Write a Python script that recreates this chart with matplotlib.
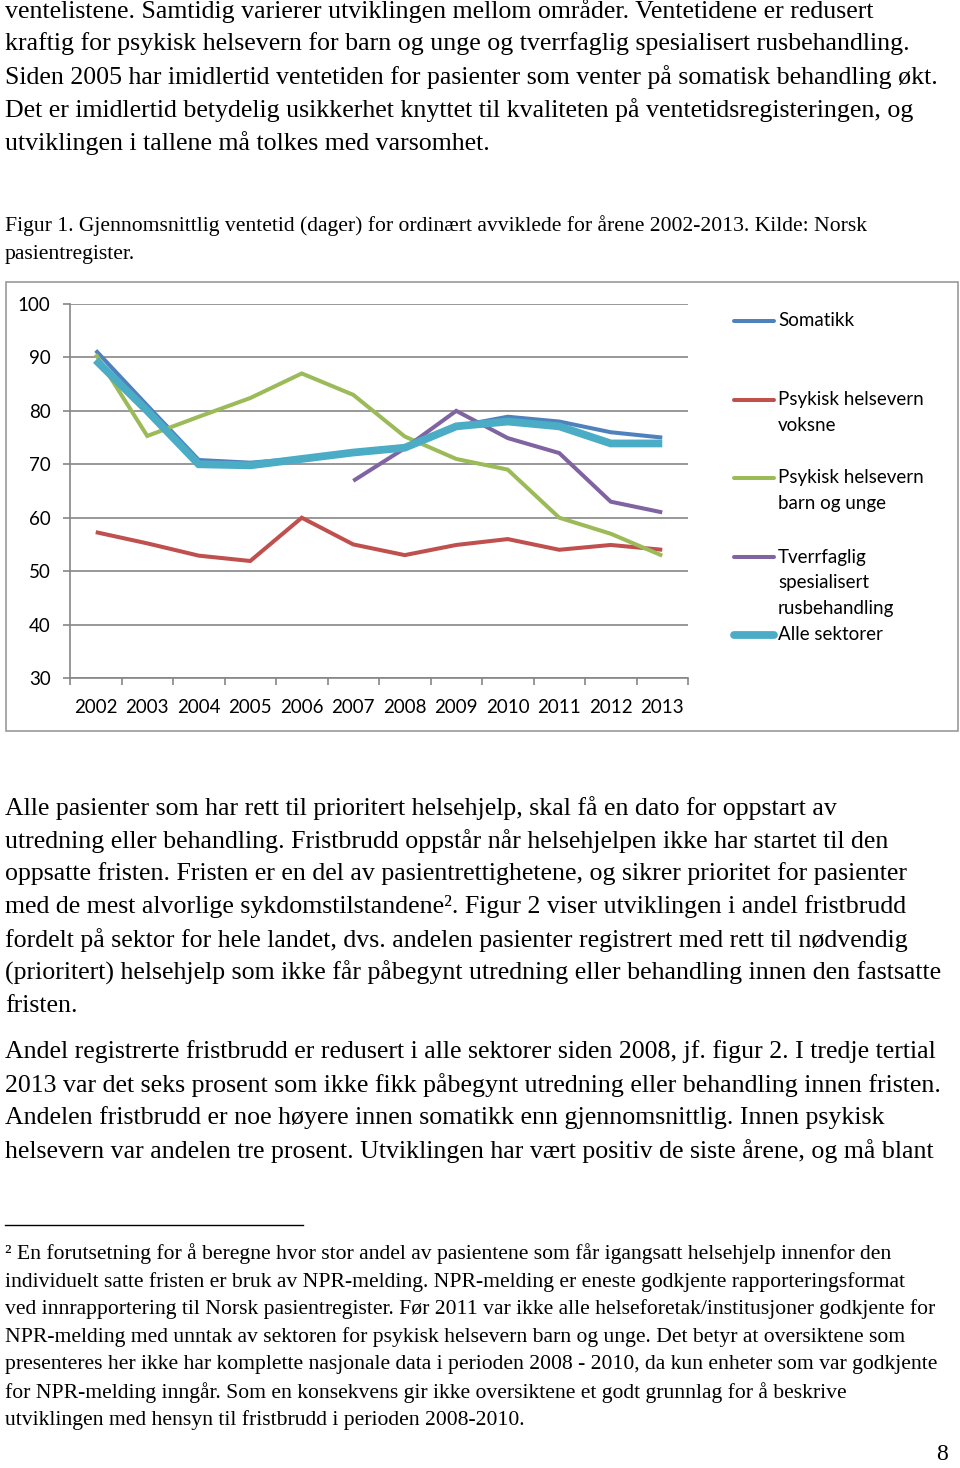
import matplotlib
matplotlib.use("Agg")
import matplotlib.pyplot as plt
from matplotlib.lines import Line2D
from matplotlib.patches import Rectangle
import numpy as np

W, H = 960, 1468

years = ["2002", "2003", "2004", "2005", "2006", "2007",
         "2008", "2009", "2010", "2011", "2012", "2013"]
somatikk = [91.3, 81.0, 70.8, 70.3, 71.1, 72.4, 73.3, 77.1, 78.9, 78.0, 76.0, 75.0]
voksne = [57.3, 55.2, 52.9, 51.9, 60.0, 55.0, 53.0, 54.9, 56.0, 54.0, 54.9, 54.0]
barn = [90.6, 75.3, 78.9, 82.4, 87.0, 83.0, 75.2, 71.0, 69.0, 60.0, 57.0, 52.9]
rus = [np.nan, np.nan, np.nan, np.nan, np.nan, 66.9, 73.0, 80.0, 74.9, 72.1, 63.0, 61.0]
alle = [89.5, 80.0, 70.0, 69.8, 71.0, 72.2, 73.1, 77.1, 78.0, 77.1, 73.9, 73.9]

series_labels = ["Somatikk", "Psykisk helsevern\nvoksne", "Psykisk helsevern\nbarn og unge",
                 "Tverrfaglig\nspesialisert\nrusbehandling", "Alle sektorer"]
yticks = [30, 40, 50, 60, 70, 80, 90, 100]

para1 = [
    "ventelistene. Samtidig varierer utviklingen mellom områder. Ventetidene er redusert",
    "kraftig for psykisk helsevern for barn og unge og tverrfaglig spesialisert rusbehandling.",
    "Siden 2005 har imidlertid ventetiden for pasienter som venter på somatisk behandling økt.",
    "Det er imidlertid betydelig usikkerhet knyttet til kvaliteten på ventetidsregisteringen, og",
    "utviklingen i tallene må tolkes med varsomhet.",
]
caption = [
    "Figur 1. Gjennomsnittlig ventetid (dager) for ordinært avviklede for årene 2002-2013. Kilde: Norsk",
    "pasientregister.",
]
para2 = [
    "Alle pasienter som har rett til prioritert helsehjelp, skal få en dato for oppstart av",
    "utredning eller behandling. Fristbrudd oppstår når helsehjelpen ikke har startet til den",
    "oppsatte fristen. Fristen er en del av pasientrettighetene, og sikrer prioritet for pasienter",
    "med de mest alvorlige sykdomstilstandene². Figur 2 viser utviklingen i andel fristbrudd",
    "fordelt på sektor for hele landet, dvs. andelen pasienter registrert med rett til nødvendig",
    "(prioritert) helsehjelp som ikke får påbegynt utredning eller behandling innen den fastsatte",
    "fristen.",
]
para3 = [
    "Andel registrerte fristbrudd er redusert i alle sektorer siden 2008, jf. figur 2. I tredje tertial",
    "2013 var det seks prosent som ikke fikk påbegynt utredning eller behandling innen fristen.",
    "Andelen fristbrudd er noe høyere innen somatikk enn gjennomsnittlig. Innen psykisk",
    "helsevern var andelen tre prosent. Utviklingen har vært positiv de siste årene, og må blant",
]
footnote = [
    "² En forutsetning for å beregne hvor stor andel av pasientene som får igangsatt helsehjelp innenfor den",
    "individuelt satte fristen er bruk av NPR-melding. NPR-melding er eneste godkjente rapporteringsformat",
    "ved innrapportering til Norsk pasientregister. Før 2011 var ikke alle helseforetak/institusjoner godkjente for",
    "NPR-melding med unntak av sektoren for psykisk helsevern barn og unge. Det betyr at oversiktene som",
    "presenteres her ikke har komplette nasjonale data i perioden 2008 - 2010, da kun enheter som var godkjente",
    "for NPR-melding inngår. Som en konsekvens gir ikke oversiktene et godt grunnlag for å beskrive",
    "utviklingen med hensyn til fristbrudd i perioden 2008-2010.",
]

SERIF = "Liberation Serif"
SANS = "Lato"


def fx(px):
    return px / W


def fy(py):
    return 1 - py / H


def put_lines(fig, lines, y0, step, size, x0=5, family=SERIF):
    for i, line in enumerate(lines):
        fig.text(fx(x0), fy(y0 + i * step), line, ha="left", va="center",
                 fontsize=size, family=family, color="black")


fig = plt.figure(figsize=(W / 100, H / 100), dpi=100)
fig.patch.set_facecolor("white")

put_lines(fig, para1, 11, 33, 18.6)
put_lines(fig, caption, 226, 28, 15.6)
put_lines(fig, para2, 808, 33, 18.6)
put_lines(fig, para3, 1052, 33, 18.6)
put_lines(fig, footnote, 1254, 27.7, 15.6)
fig.text(fx(948), fy(1455), "8", ha="right", va="center", fontsize=17, family=SERIF)
fig.add_artist(Line2D([fx(5), fx(303)], [fy(1225), fy(1225)], color="black", lw=1.0))

# chart frame
fig.add_artist(Rectangle((fx(6), fy(731)), fx(952), (731 - 282) / H, fill=False,
                         edgecolor="#9a9a9a", lw=1.2, transform=fig.transFigure))

ax = fig.add_axes([fx(70), fy(678), fx(618), (678 - 304) / H])
colors = ["#4F81BD", "#C0504D", "#9BBB59", "#8064A2", "#4BACC6"]
widths = [2.9, 2.9, 2.9, 2.9, 5.6]
x = np.arange(len(years))
for vals, c, lw in zip([somatikk, voksne, barn, rus, alle], colors, widths):
    ax.plot(x, vals, color=c, lw=lw, solid_joinstyle="miter", solid_capstyle="butt")

ax.set_xlim(-0.5, len(years) - 0.5)
ax.set_ylim(30, 100)
ax.set_yticks(yticks)
ax.set_yticklabels([str(v) for v in yticks], family=SANS, fontsize=13.5)
ax.set_xticks(x)
ax.set_xticklabels(years, family=SANS, fontsize=13.5)
ax.set_xticks(np.arange(len(years) + 1) - 0.5, minor=True)
ax.tick_params(axis="x", which="major", length=0, pad=15)
ax.tick_params(axis="x", which="minor", length=5, color="#868686", width=1.2)
ax.tick_params(axis="y", length=5, color="#868686", width=1.2, pad=9)
ax.yaxis.grid(True, color="#868686", lw=1.2)
ax.set_axisbelow(True)
for s in ["top", "right"]:
    ax.spines[s].set_visible(False)
for s in ["left", "bottom"]:
    ax.spines[s].set_color("#868686")
    ax.spines[s].set_linewidth(1.2)

# legend
leg_y = [321, 400, 478, 557, 635]
for lab, c, lw, yy in zip(series_labels, colors, widths, leg_y):
    fig.add_artist(Line2D([fx(734), fx(774)], [fy(yy), fy(yy)], color=c, lw=lw,
                          solid_capstyle="round"))
    put_lines(fig, lab.split("\n"), yy, 25.8, 13.5, x0=778, family=SANS)

fig.savefig("out.png", dpi=100)
